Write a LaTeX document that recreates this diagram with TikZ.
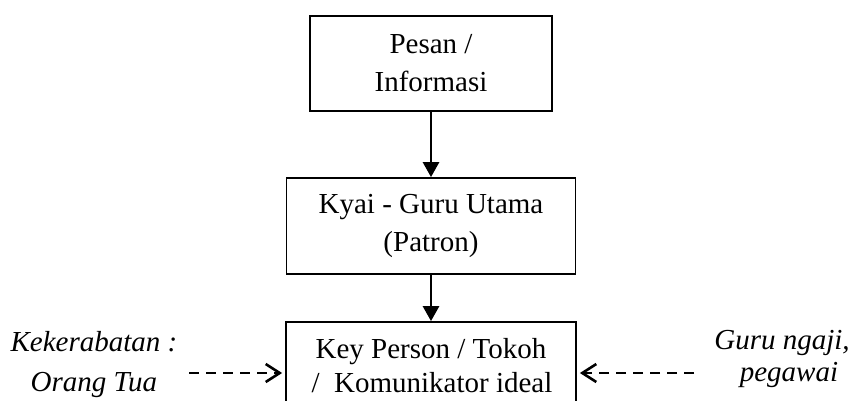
\documentclass[tikz,border=0pt]{standalone}
\usepackage{fontspec}
\setmainfont{Liberation Serif}
\usetikzlibrary{arrows.meta,calc}
\tikzset{
  box/.style={draw, line width=1.8pt, inner sep=0pt, align=center,
    font=\fontsize{29}{38}\selectfont},
  side/.style={inner sep=0pt, align=center, font=\fontsize{29}{38}\selectfont\itshape},
  flow/.style={line width=2.8pt, -{Triangle[length=15pt,width=16pt]}},
  hint/.style={line width=2.6pt, dash pattern=on 10pt off 7pt,
    -{Straight Barb[length=14pt,width=18pt,line width=2.6pt]}}
}
\begin{document}
\begin{tikzpicture}[x=1pt,y=-1pt]
\clip (0,0) rectangle (859,400);
\fill[white] (0,0) rectangle (859,400);
\node[box, minimum width=242pt, minimum height=95pt] (msg) at (431,63.5) {Pesan /\\Informasi};
\node[box, minimum width=289pt, minimum height=96pt] (kyai) at (431,226) {Kyai - Guru Utama\\(Patron)};
\node[box, minimum width=290pt, minimum height=88pt, font=\fontsize{29}{34}\selectfont] (key) at (431,366) {Key Person / Tokoh\\ \hspace*{2pt}/\ \ Komunikator ideal};
\node[side, font=\fontsize{29}{40}\selectfont\itshape] (kin) at (94,365) {Kekerabatan :\\Orang Tua};
\node[side, font=\fontsize{29}{32}\selectfont\itshape] (guru) at (782,359) {Guru ngaji,\\\hspace*{14pt}pegawai};
\draw[flow] (msg.south) -- (kyai.north);
\draw[flow] (kyai.south) -- (key.north);
\coordinate (la) at (189,373);
\coordinate (ra) at (694,373);
\draw[hint] (la) -- ($(la -| key.west)+(-3,0)$);
\draw[hint] (ra) -- ($(ra -| key.east)+(3,0)$);
\end{tikzpicture}
\end{document}
